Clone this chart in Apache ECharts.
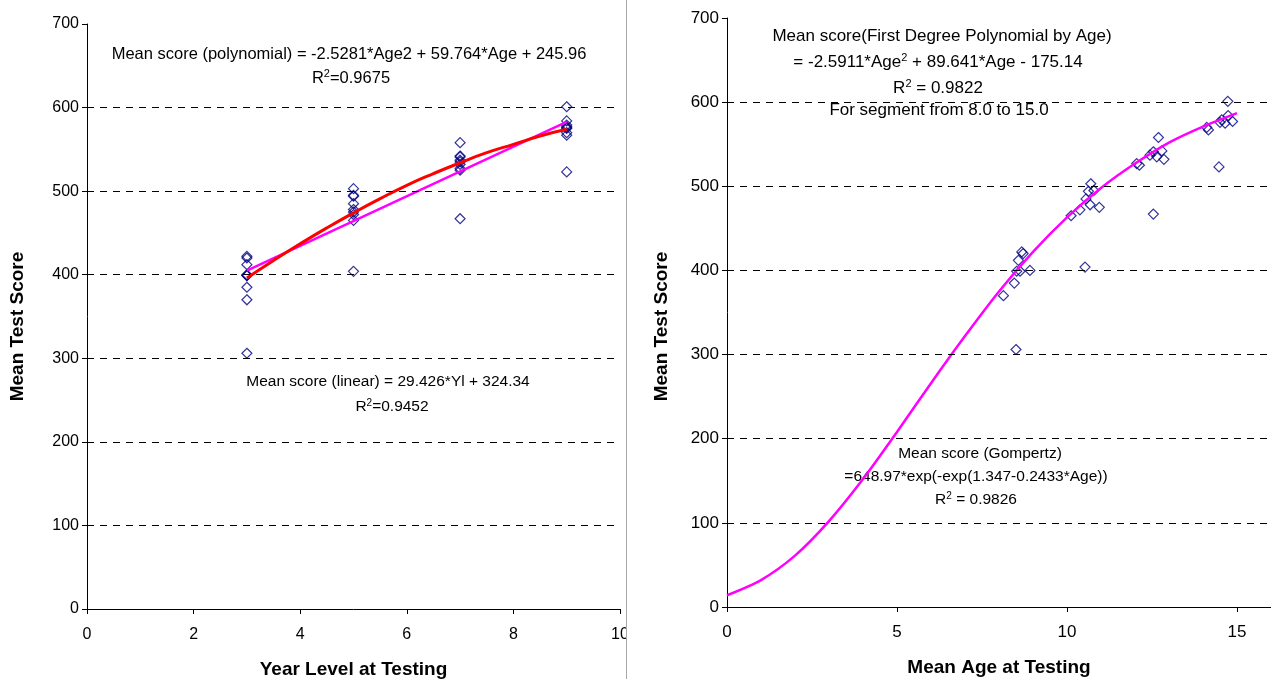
<!DOCTYPE html>
<html>
<head>
<meta charset="utf-8">
<script src="https://cdn.jsdelivr.net/npm/echarts@6/dist/echarts.min.js"></script>
<style>
  html, body { margin: 0; padding: 0; background: #fff; }
  #wrap { position: relative; width: 1271px; height: 679px; overflow: hidden; }
  #left { position: absolute; left: 0; top: 0; width: 626px; height: 679px; }
  #divider { position: absolute; left: 626px; top: 0; width: 1px; height: 679px; background: #a8a8a8; }
  #right { position: absolute; left: 627px; top: 0; width: 644px; height: 679px; }
</style>
</head>
<body>
<div id="wrap">
  <div id="left"></div>
  <div id="divider"></div>
  <div id="right"></div>
</div>
<script>
// ---------- data ----------
const yearLevels = [3,3,3,3,3,3,3,3,3, 5,5,5,5,5,5,5,5,5, 7,7,7,7,7,7,7,7,7, 9,9,9,9,9,9,9,9,9];
const meanScores = [422,420,412,399,399,400,385,370,306,
                    503,495,494,485,478,475,472,465,404,
                    558,541,542,535,532,527,525,537,467,
                    601,584,579,577,575,576,570,567,523];
const meanAges = [8.67,8.71,8.57,8.52,8.62,8.91,8.45,8.13,8.50,
                  10.70,10.79,10.63,10.56,10.68,10.95,10.38,10.12,10.53,
                  12.69,12.54,12.79,12.64,12.85,12.05,12.13,12.44,12.54,
                  14.73,14.74,14.55,14.87,14.65,14.50,14.11,14.16,14.47];

// polynomial trend (red)
const polyYears  = [3, 3.5, 4, 4.5, 5, 5.5, 6, 6.5, 7, 7.5, 8, 8.5, 9];
const polyScores = [396, 417, 437, 456, 474, 491, 507, 521, 534, 546, 556, 566, 574];
// linear trend (magenta)
const linYears  = [3, 9];
const linScores = [405, 583];
// Gompertz curve (magenta)
const gompAges   = [0, 1, 2, 3, 4, 5, 6, 7, 8, 9, 10, 11, 12, 13, 14, 15];
const gompScores = [14, 32, 61, 102, 152, 208, 266, 322, 375, 422, 463, 498, 527, 552, 571, 587];

const gridValues = [100, 200, 300, 400, 500, 600];
const leftXTicks = { min: 0, max: 10, interval: 2 };
const rightXTicks = { min: 0, max: 16, interval: 5 };
const yTicks = { min: 0, max: 700, interval: 100 };

// ---------- styling helpers ----------
const FONT = 'Liberation Sans, Arial, sans-serif';
function axisBase(labelSize) {
  return {
    axisLine: { show: true, lineStyle: { color: '#000', width: 1 } },
    axisTick: { show: true, inside: false, length: 5, lineStyle: { color: '#000' } },
    splitLine: { show: false },
    axisLabel: { color: '#000', fontSize: labelSize, fontFamily: FONT },
    nameTextStyle: { color: '#000', fontSize: 19, fontWeight: 'bold', fontFamily: FONT }
  };
}
function gridMarkLine() {
  return {
    silent: true, symbol: 'none', label: { show: false },
    lineStyle: { color: '#000', type: [7, 6], width: 1 },
    animation: false,
    data: gridValues.map(v => ({ yAxis: v }))
  };
}
function txt(x, y, text, size) {
  return {
    type: 'text', x: x, y: y, silent: true,
    style: {
      text: text, fill: '#000', fontSize: size, fontFamily: FONT,
      align: 'center', verticalAlign: 'middle',
      rich: { sup: { fontSize: Math.round(size * 0.65), verticalAlign: 'top', padding: [0, 0, 8, 0], fontFamily: FONT } }
    }
  };
}
const diamondStyle = { color: 'rgba(0,0,0,0)', borderColor: '#000080', borderWidth: 1.2 };

// ---------- left chart ----------
const left = echarts.init(document.getElementById('left'), null, { renderer: 'canvas' });
const LB = axisBase(16);
left.setOption({
  animation: false,
  backgroundColor: '#fff',
  grid: { left: 87, right: 6, top: 24, bottom: 70, outerBoundsMode: 'none', containLabel: false },
  xAxis: Object.assign({}, LB, {
    type: 'value', min: leftXTicks.min, max: leftXTicks.max, interval: leftXTicks.interval,
    name: 'Year Level at Testing', nameLocation: 'middle', nameGap: 51,
    axisLabel: Object.assign({}, LB.axisLabel, { margin: 18 })
  }),
  yAxis: Object.assign({}, LB, {
    type: 'value', min: yTicks.min, max: yTicks.max, interval: yTicks.interval,
    name: 'Mean Test Score', nameLocation: 'middle', nameGap: 60, nameRotate: 90,
    nameTextStyle: Object.assign({}, LB.nameTextStyle, { padding: [0, 20, 0, 0] }),
    axisLabel: Object.assign({}, LB.axisLabel, { margin: 8 })
  }),
  series: [
    { type: 'line', data: [], markLine: gridMarkLine(), silent: true },
    { type: 'line', data: linYears.map((x, i) => [x, linScores[i]]), showSymbol: false,
      lineStyle: { color: '#ff00ff', width: 2.5 }, silent: true },
    { type: 'line', data: polyYears.map((x, i) => [x, polyScores[i]]), showSymbol: false, smooth: true,
      lineStyle: { color: '#ff0000', width: 3 }, silent: true },
    { type: 'scatter', data: yearLevels.map((x, i) => [x, meanScores[i]]),
      symbol: 'diamond', symbolSize: 10, itemStyle: diamondStyle, silent: true }
  ],
  graphic: [
    txt(349, 54, 'Mean score (polynomial) = -2.5281*Age2 + 59.764*Age + 245.96', 16.5),
    txt(351, 78, 'R{sup|2}=0.9675', 16.5),
    txt(388, 382, 'Mean score (linear) = 29.426*Yl + 324.34', 15.5),
    txt(392, 407, 'R{sup|2}=0.9452', 15.5)
  ]
});

// ---------- right chart ----------
const right = echarts.init(document.getElementById('right'), null, { renderer: 'canvas' });
const OX = 627;
const RB = axisBase(17);
right.setOption({
  animation: false,
  backgroundColor: '#fff',
  grid: { left: 100, right: 0, top: 18, bottom: 72, outerBoundsMode: 'none', containLabel: false },
  xAxis: Object.assign({}, RB, {
    type: 'value', min: rightXTicks.min, max: rightXTicks.max, interval: rightXTicks.interval,
    name: 'Mean Age at Testing', nameLocation: 'middle', nameGap: 51,
    axisLabel: Object.assign({}, RB.axisLabel, { margin: 17,
      formatter: v => (v % rightXTicks.interval === 0 ? String(v) : '') })
  }),
  yAxis: Object.assign({}, RB, {
    type: 'value', min: yTicks.min, max: yTicks.max, interval: yTicks.interval,
    name: 'Mean Test Score', nameLocation: 'middle', nameGap: 56, nameRotate: 90,
    nameTextStyle: Object.assign({}, RB.nameTextStyle, { padding: [0, 28, 0, 0] }),
    axisLabel: Object.assign({}, RB.axisLabel, { margin: 8 })
  }),
  series: [
    { type: 'line', data: [], markLine: gridMarkLine(), silent: true },
    { type: 'line', data: gompAges.map((x, i) => [x, gompScores[i]]), showSymbol: false, smooth: 0.3,
      lineStyle: { color: '#ff00ff', width: 2.5 }, silent: true },
    { type: 'scatter', data: meanAges.map((x, i) => [x, meanScores[i]]),
      symbol: 'diamond', symbolSize: 10, itemStyle: diamondStyle, silent: true }
  ],
  graphic: [
    txt(942 - OX, 36, 'Mean score(First Degree Polynomial by Age)', 17),
    txt(938 - OX, 62, '= -2.5911*Age{sup|2} + 89.641*Age - 175.14', 17),
    txt(938 - OX, 88, 'R{sup|2} = 0.9822', 17),
    txt(939 - OX, 110, 'For segment from 8.0 to 15.0', 17),
    txt(980 - OX, 454, 'Mean score (Gompertz)', 15.5),
    txt(976 - OX, 477, '=648.97*exp(-exp(1.347-0.2433*Age))', 15.5),
    txt(976 - OX, 500, 'R{sup|2} = 0.9826', 15.5)
  ]
});
</script>
</body>
</html>
